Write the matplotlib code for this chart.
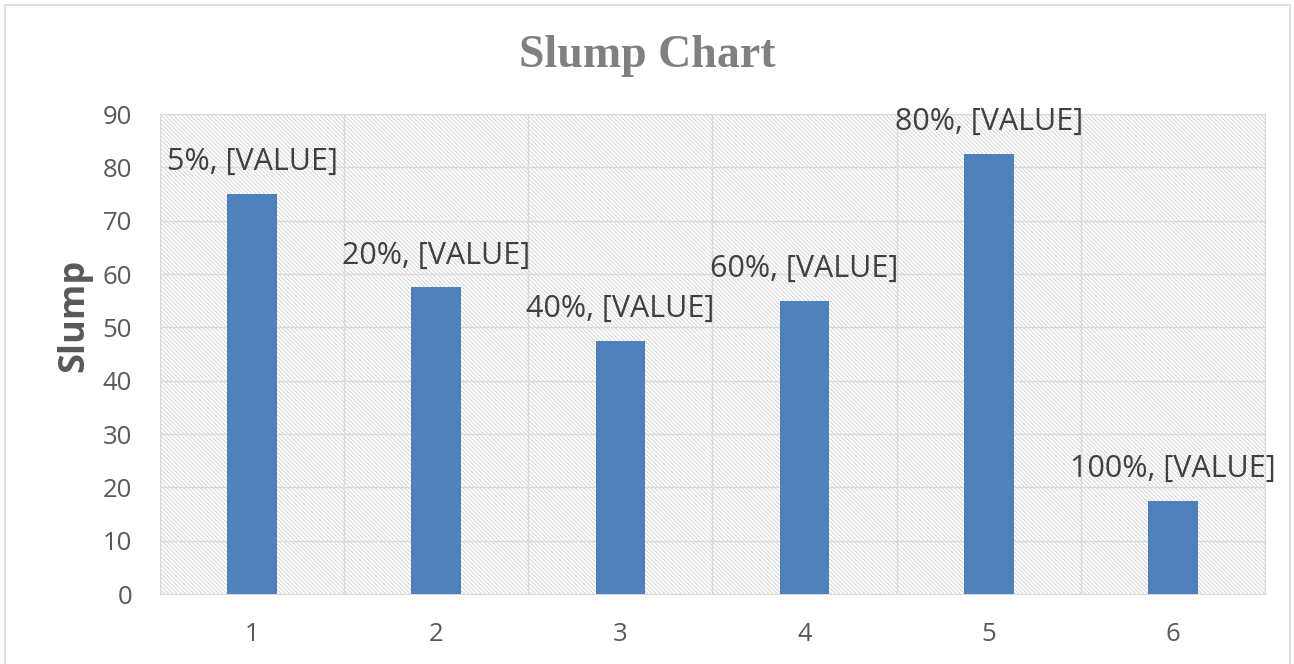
import matplotlib.pyplot as plt
from matplotlib.patches import Rectangle

categories = [1, 2, 3, 4, 5, 6]
slump = [75, 57.5, 47.5, 55, 82.5, 17.5]
label_pcts = ["5%", "20%", "40%", "60%", "80%", "100%"]

GRID = "#d9d9d9"
TEXT = "#595959"
BAR = "#4f81bd"

plt.rcParams['hatch.linewidth'] = 0.6
plt.rcParams['hatch.color'] = "#d0d0d0"

fig = plt.figure(figsize=(12.94, 6.64), dpi=100)
ax = fig.add_axes([0.1236, 0.1054, 0.8540, 0.7229])

# hatched plot-area background
bg = Rectangle((0, 0), 1, 1, transform=ax.transAxes, facecolor="white",
               edgecolor="#d0d0d0", hatch="\\" * 8, linewidth=0, zorder=0)
ax.add_patch(bg)
ax.set_facecolor("white")

ax.bar(categories, slump, width=0.27, color=BAR, zorder=3)

for x, y, p in zip(categories, slump, label_pcts):
    ax.annotate(f"{p}, [VALUE]", (x, y), xytext=(0, 23), textcoords="offset points",
                ha="center", va="center", fontsize=22, color="#404040",
                family="Open Sans", zorder=4)

ax.set_xlim(0.5, 6.5)
ax.set_ylim(0, 90)
ax.set_yticks(range(0, 91, 10))
ax.set_xticks(categories)
ax.set_xticks([c + 0.5 for c in [0] + categories], minor=True)
ax.grid(True, axis="y", which="major", color=GRID, linewidth=1, zorder=1)
ax.grid(True, axis="x", which="minor", color=GRID, linewidth=1, zorder=1)
ax.set_axisbelow(True)
ax.tick_params(which="both", length=0)
ax.tick_params(axis="y", pad=20, labelsize=18.5, labelcolor=TEXT)
ax.tick_params(axis="x", pad=20, labelsize=18.5, labelcolor=TEXT)
for lab in ax.get_xticklabels() + ax.get_yticklabels():
    lab.set_family("Open Sans")
for s in ax.spines.values():
    s.set_color(GRID)

ax.set_ylabel("Slump", fontsize=26, fontweight="bold", color=TEXT,
              family="Open Sans", labelpad=2)
ax.yaxis.set_label_coords(-0.061, 0.581)

fig.text(0.5, 0.915, "Slump Chart", ha="center", va="center", fontsize=33,
         fontweight="bold", color="#808080", family="Liberation Serif")

# outer chart border
fig.patches.append(Rectangle((0.004, -0.01), 0.993, 1.003, transform=fig.transFigure,
                             fill=False, edgecolor=GRID, linewidth=1.2))

fig.savefig("out.png", dpi=100)
